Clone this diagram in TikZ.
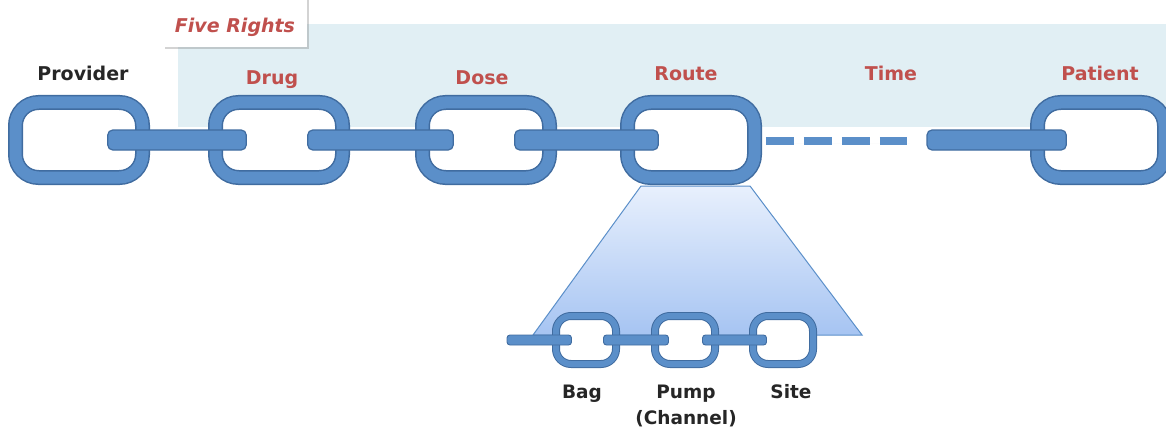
\documentclass[tikz,border=0pt]{standalone}
\usepackage{fontspec}
\setmainfont{DejaVu Sans}
\usetikzlibrary{calc,shadows}

\definecolor{linkblue}{RGB}{91,143,201}
\definecolor{linkedge}{RGB}{64,108,160}
\definecolor{rightsbg}{RGB}{225,239,244}
\definecolor{rightsred}{RGB}{192,80,77}
\definecolor{fanlight}{RGB}{232,240,253}
\definecolor{fandark}{RGB}{166,196,242}

\begin{document}
\begin{tikzpicture}[x=1pt,y=-1pt,
  biglink/.style={draw=linkedge, line width=1.5pt, double=linkblue, double distance=12pt,
    fill=white, rounded corners=23pt, minimum width=127pt, minimum height=75pt, inner sep=0pt},
  smalllink/.style={draw=linkedge, line width=1pt, double=linkblue, double distance=6pt,
    fill=white, rounded corners=15pt, minimum width=60pt, minimum height=48pt, inner sep=0pt},
  bigbar/.style={draw=linkedge, line width=1.2pt, fill=linkblue, rounded corners=5pt},
  smallbar/.style={draw=linkedge, line width=0.9pt, fill=linkblue, rounded corners=3pt},
  rightlbl/.style={font=\fontsize{19}{21}\selectfont\bfseries, text=rightsred, anchor=base},
  otherlbl/.style={font=\fontsize{19}{21}\selectfont\bfseries, text=black!85, anchor=base},
  sublbl/.style={font=\fontsize{18.5}{26}\selectfont\bfseries, text=black!85, align=center, anchor=north}]
\useasboundingbox (0,0) rectangle (1166,433);

% the five rights band
\fill[rightsbg] (178,24) rectangle (1166,127);
\node[draw=none, fill=white, drop shadow={opacity=0.35, shadow xshift=2pt, shadow yshift=-2pt},
  minimum width=144pt, minimum height=49pt, anchor=south west] (rightsbox) at (163,47) {};
\node[text=rightsred, font=\fontsize{19}{21}\selectfont\bfseries\itshape, anchor=base] (rights) at (235,33) {Five Rights};

% fan from Route down to the sub-chain
\shade[top color=fanlight, bottom color=fandark, draw=linkblue, line width=1pt]
  (641,186) -- (750,186) -- (862,335) -- (533,335) -- cycle;

% main chain
\node[biglink] (provider) at (79,140) {};
\node[biglink] (drug) at (279,140) {};
\node[biglink] (dose) at (486,140) {};
\node[biglink] (route) at (691,140) {};
\node[biglink] (patient) at (1101,140) {};

\draw[bigbar] ($(provider.east)+(-35.5,-10)$) rectangle ($(drug.west)+(31.5,10)$);
\draw[bigbar] ($(drug.east)+(-35.5,-10)$) rectangle ($(dose.west)+(31.5,10)$);
\draw[bigbar] ($(dose.east)+(-35.5,-10)$) rectangle ($(route.west)+(31.5,10)$);

\coordinate (timeend) at (907,141);
\coordinate (timebar) at (927,140);
\draw[linkblue, line width=8pt, dash pattern=on 28pt off 10pt,
  drop shadow={opacity=0.2}] ($(route.east)+(10.5,1)$) -- (timeend);
\draw[bigbar] ($(timebar)+(0,-10)$) rectangle ($(patient.west)+(29.5,10)$);

\node[otherlbl] (providerlbl) at (83,81) {Provider};
\node[rightlbl] (druglbl) at (272,85) {Drug};
\node[rightlbl] (doselbl) at (482,85) {Dose};
\node[rightlbl] (routelbl) at (686,81) {Route};
\node[rightlbl] (timelbl) at (891,81) {Time};
\node[rightlbl] (patientlbl) at (1100,81) {Patient};

% sub-chain under Route
\node[smalllink] (bag) at (586,340) {};
\node[smalllink] (pump) at (685,340) {};
\node[smalllink] (site) at (783,340) {};

\coordinate (subend) at (507,340);
\draw[smallbar] ($(subend)+(0,-5)$) rectangle ($(bag.west)+(16,5)$);
\draw[smallbar] ($(bag.east)+(-13,-5)$) rectangle ($(pump.west)+(14,5)$);
\draw[smallbar] ($(pump.east)+(-13,-5)$) rectangle ($(site.west)+(14,5)$);

\node[sublbl] (baglbl) at (582,381) {Bag};
\node[sublbl] (pumplbl) at (686,381) {Pump\\(Channel)};
\node[sublbl] (sitelbl) at (791,381) {Site};
\end{tikzpicture}
\end{document}
